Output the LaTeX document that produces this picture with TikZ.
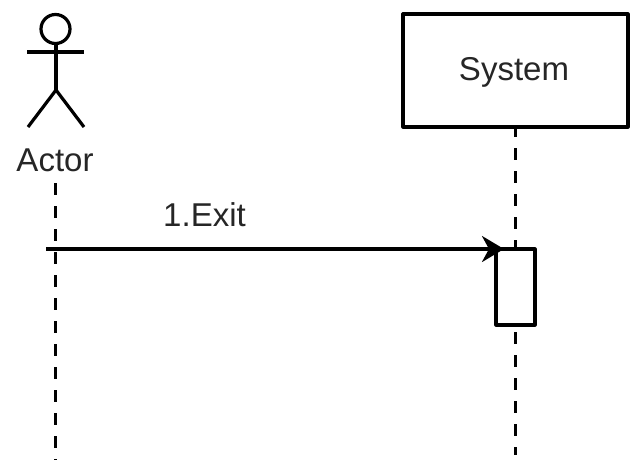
\documentclass[tikz,border=0pt]{standalone}
\usepackage{fontspec}
\setmainfont{Liberation Sans}
\usetikzlibrary{arrows.meta}
\tikzset{
  lifeline/.style={line width=3.2pt, dash pattern=on 12pt off 11pt},
  solidline/.style={line width=3.2pt, line join=round},
  labeltext/.style={font=\fontsize{33}{36}\selectfont, text=black!85, inner sep=0pt}
}
\begin{document}
\begin{tikzpicture}[x=1pt,y=-1pt]
        \useasboundingbox (0, 0) rectangle (630, 461);
        \fill[white] (0, 0) rectangle (630, 461);

        \coordinate (neck) at (56, 44);
        \coordinate (hip) at (56, 90);
        \coordinate (armL) at (27, 52);
        \coordinate (armR) at (84, 52);
        \coordinate (footL) at (28, 127);
        \coordinate (footR) at (84, 127);
        \coordinate (actorTop) at (55.5, 183);
        \coordinate (actorEnd) at (55.5, 460);
        \coordinate (systemTop) at (515.5, 125);
        \coordinate (systemEnd) at (515.5, 455);
        \coordinate (exitStart) at (46, 249);
        \coordinate (exitEnd) at (504, 249);

        \draw[lifeline] (actorTop) -- (actorEnd);
        \draw[lifeline] (systemTop) -- (systemEnd);

        \draw[solidline] (55.5, 29) circle (14.5pt);
        \draw[solidline] (neck) -- (hip);
        \draw[solidline] (armL) -- (armR);
        \draw[solidline] (footL) -- (hip) -- (footR);
        \node[labeltext] (actor) at (55, 160) {Actor};

        \node[draw, fill = white, solidline, minimum width = 225pt, minimum height = 113pt, inner sep = 0pt] (system) at (515.5, 70.5) {};
        \node[labeltext] (systemLabel) at (514, 72) {System};

        \node[draw, fill = white, solidline, minimum width = 39pt, minimum height = 76pt, inner sep = 0pt] (activation) at (515.5, 287) {};

        \draw[solidline, -{Stealth[length=22pt, width=26pt, inset=7pt]}] (exitStart) -- (exitEnd);
        \node[labeltext] (exit) at (204.5, 215) {1.Exit};

    \end{tikzpicture}
\end{document}
